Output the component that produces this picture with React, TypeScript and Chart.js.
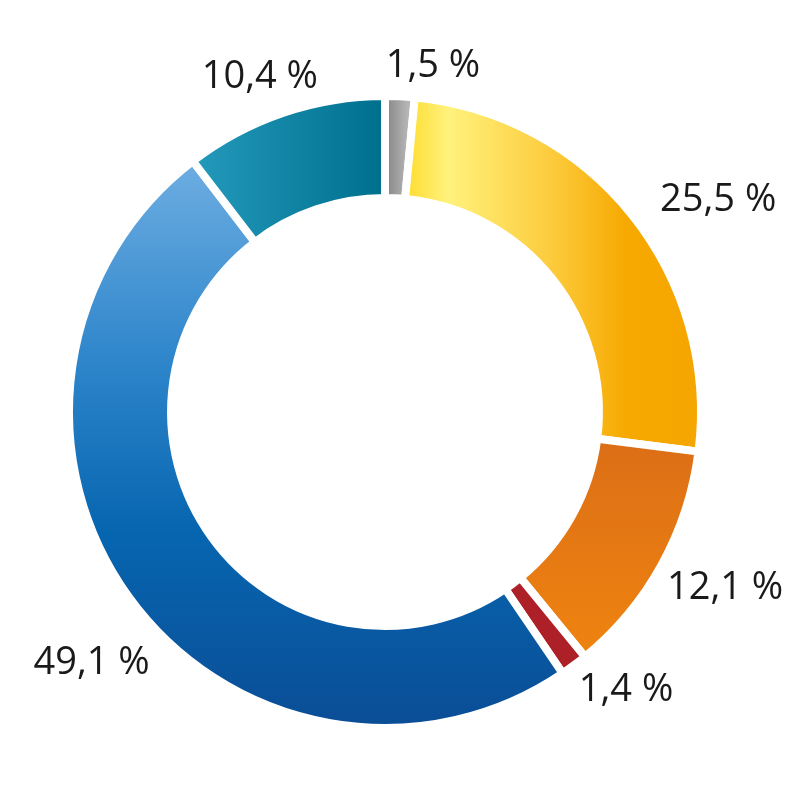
import React, { useEffect, useRef } from "react";
import { Chart, registerables } from "chart.js";

Chart.register(...registerables);

// ---- data ----
const categories = ["Grau", "Gelb", "Orange", "Rot", "Blau", "Petrol"];
const shares = [1.5, 25.5, 12.1, 1.4, 49.1, 10.4];
const labelTexts = ["1,5 %", "25,5 %", "12,1 %", "1,4 %", "49,1 %", "10,4 %"];

// ---- style ----
const RING_RADIUS = 316;
const gradients: { dir: "h" | "v"; from: number; to: number; stops: [number, string][] }[] = [
  { dir: "h", from: 0.0, to: 0.07, stops: [[0, "#858585"], [1, "#b4b4b4"]] },
  { dir: "h", from: 0.06, to: 1.0, stops: [[0, "#fedb2c"], [0.15, "#fff27c"], [0.5, "#fccb3c"], [0.75, "#f6a900"], [1, "#f5a500"]] },
  { dir: "v", from: 0.1, to: 0.8, stops: [[0, "#dc6f16"], [1, "#f0840f"]] },
  { dir: "h", from: 0, to: 1, stops: [[0, "#b2212a"], [1, "#a81f24"]] },
  { dir: "v", from: -0.8, to: 1.0, stops: [[0, "#6eaee2"], [0.35, "#2f86cb"], [0.65, "#0766b0"], [1, "#0a4d96"]] },
  { dir: "h", from: -0.6, to: -0.02, stops: [[0, "#2399bb"], [1, "#00708f"]] },
];
const labelAngleNudge = [5.2, 6.2, -1.6, -4.2, -4.7, -1.8]; // degrees
const labelDistance = [349, 395, 383, 368, 386, 357]; // px from center

const labelPlugin = {
  id: "outerLabels",
  afterDraw(chart: any) {
    const ctx = chart.ctx;
    const meta = chart.getDatasetMeta(0);
    ctx.save();
    ctx.font = '500 38px "Open Sans"';
    ctx.fillStyle = "#1a1a1a";
    ctx.textAlign = "center";
    ctx.textBaseline = "middle";
    meta.data.forEach((arc: any, i: number) => {
      const mid = (arc.startAngle + arc.endAngle) / 2 + (labelAngleNudge[i] * Math.PI) / 180;
      const r = labelDistance[i];
      ctx.fillText(labelTexts[i], arc.x + Math.cos(mid) * r, arc.y + Math.sin(mid) * r);
    });
    ctx.restore();
  },
};

export default function App() {
  const ref = useRef<HTMLCanvasElement>(null);
  useEffect(() => {
    if (!ref.current) return;
    const chart = new Chart(ref.current, {
      type: "doughnut",
      data: {
        labels: categories,
        datasets: [
          {
            data: shares,
            borderWidth: 8,
            borderColor: "#ffffff",
            borderAlign: "center",
            borderJoinStyle: "miter",
            spacing: 0,
            backgroundColor: (c: any) => {
              const chart = c.chart;
              const g = gradients[c.dataIndex];
              const area = chart.chartArea;
              if (!area || !isFinite(area.left)) return g.stops[0][1];
              const cx = (area.left + area.right) / 2;
              const cy = (area.top + area.bottom) / 2;
              const R = RING_RADIUS;
              const grad =
                g.dir === "h"
                  ? chart.ctx.createLinearGradient(cx + g.from * R, 0, cx + g.to * R, 0)
                  : chart.ctx.createLinearGradient(0, cy + g.from * R, 0, cy + g.to * R);
              g.stops.forEach(([o, col]) => grad.addColorStop(o, col));
              return grad;
            },
          },
        ],
      },
      options: {
        animation: false,
        responsive: false,
        radius: RING_RADIUS,
        cutout: "67.7%",
        layout: { padding: { left: 0, right: 30, top: 24, bottom: 0 } },
        plugins: { legend: { display: false }, tooltip: { enabled: false } },
      } as any,
      plugins: [labelPlugin],
    });
    return () => chart.destroy();
  }, []);
  return (
    <div style={{ position: "absolute", left: 0, top: 0, width: 800, height: 800, background: "#fff" }}>
      <canvas ref={ref} width={800} height={800} />
    </div>
  );
}
